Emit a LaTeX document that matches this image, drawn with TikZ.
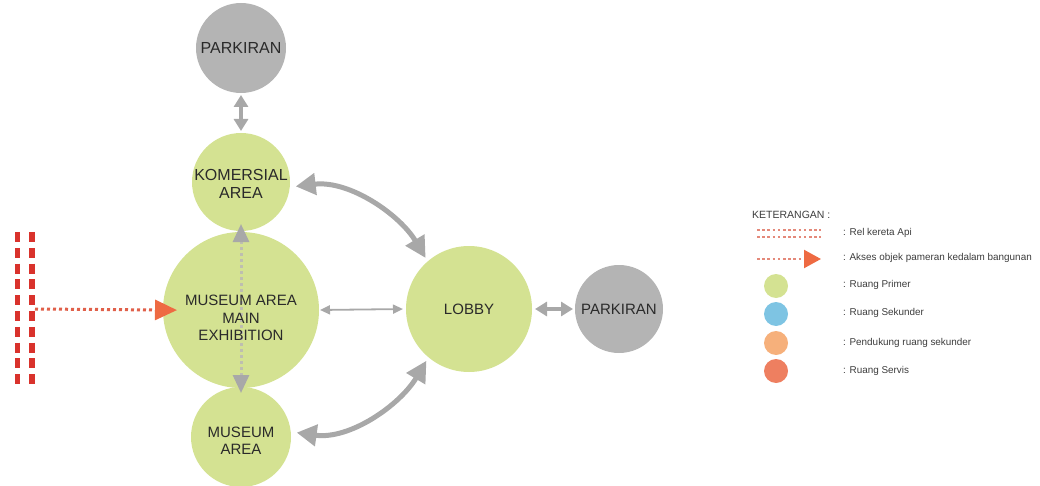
\documentclass[tikz,border=0pt]{standalone}
\usepackage{fontspec}
\setmainfont{Liberation Sans}
\usetikzlibrary{arrows.meta}
\definecolor{primer}{HTML}{D4E292}
\definecolor{parkir}{HTML}{B4B4B4}
\definecolor{arrowgray}{HTML}{A8A8A8}
\definecolor{dotgray}{HTML}{BEBEB0}
\definecolor{rail}{HTML}{D9322C}
\definecolor{akses}{HTML}{E0604A}
\definecolor{aksesHead}{HTML}{EE6A42}
\definecolor{legdots}{HTML}{E4897A}
\definecolor{sekunder}{HTML}{7EC4E3}
\definecolor{pendukung}{HTML}{F6B07B}
\definecolor{servis}{HTML}{EE7F60}
\definecolor{ink}{HTML}{2A2A2A}
\definecolor{legendink}{HTML}{3C3C3C}
\tikzset{
  room/.style={circle, inner sep=0pt, outer sep=0pt, minimum size=#1},
  lbl/.style={align=center, text=ink, font=\fontsize{15}{17.5}\selectfont, inner sep=0pt},
  biglbl/.style={lbl, font=\fontsize{16}{18}\selectfont},
  legtext/.style={anchor=west, text=legendink, font=\fontsize{9.9}{11}\selectfont, inner sep=0pt},
  legdot/.style={circle, inner sep=0pt, outer sep=0pt, minimum size=24pt},
  curvelink/.style={draw=arrowgray, line width=5pt,
    {Triangle[length=20pt,width=21pt]}-{Triangle[length=21pt,width=21pt]}},
  shortlink/.style={draw=arrowgray, line width=4pt,
    {Triangle[length=12pt,width=14pt]}-{Triangle[length=12pt,width=14pt]}},
  thinlink/.style={draw=arrowgray, line width=1.8pt,
    {Triangle[length=10pt,width=9pt]}-{Triangle[length=10pt,width=9pt]}},
  railline/.style={draw=rail, line width=5.5pt, dash pattern=on 10pt off 5.8pt},
  aksesline/.style={draw=akses, line width=3pt, dash pattern=on 3pt off 3pt},
  legline/.style={draw=legdots, line width=2.2pt, dash pattern=on 2.5pt off 2.7pt},
}
\begin{document}
\begin{tikzpicture}[x=1pt,y=-1pt]
\useasboundingbox (0,0) rectangle (1040,486);

% spaces
\node[room=90pt, fill=parkir] (parkTop) at (241,48) {};
\node[room=98pt, fill=primer] (kom) at (241,182) {};
\node[room=100pt, fill=primer] (mus) at (241,437) {};
\node[room=156pt, fill=primer] (main) at (241,310) {};
\node[room=126pt, fill=primer] (lobby) at (469,309) {};
\node[room=88pt, fill=parkir] (parkRight) at (619,309) {};

% link through the main exhibition
\coordinate (mainUp) at (241,224);
\coordinate (mainDown) at (241,393);
\draw[draw=dotgray, line width=3pt, dash pattern=on 3pt off 3pt,
  {Triangle[length=18pt,width=16pt,color=arrowgray]}-{Triangle[length=18pt,width=16pt,color=arrowgray]}]
  (mainUp) -- (mainDown);

% labels
\node[biglbl] (parkTopT) at (241,48) {PARKIRAN};
\node[biglbl] (komT) at (241,184) {KOMERSIAL\\AREA};
\node[lbl] (mainT) at (241,318) {MUSEUM AREA\\MAIN\\EXHIBITION};
\node[lbl] (musT) at (241,441) {MUSEUM\\AREA};
\node[lbl] (lobbyT) at (469,309) {LOBBY};
\node[lbl] (parkRightT) at (619,309) {PARKIRAN};

% circulation
\draw[shortlink, shorten <=2pt, shorten >=2pt] (parkTop.south) -- (kom.north);
\draw[shortlink, shorten <=3pt, shorten >=2pt] (lobby.east) -- (parkRight.west);
\draw[thinlink, shorten <=1pt, shorten >=3pt] (main.east) -- (lobby.west);
\draw[curvelink, shorten <=6pt, shorten >=4pt]
  (kom.-6) .. controls (350,180) and (400,215) .. (lobby.131);
\draw[curvelink, shorten <=6pt, shorten >=4pt]
  (mus.6) .. controls (350,440) and (400,405) .. (lobby.230);

% railway and object access
\coordinate (railA1) at (17.5,232);
\coordinate (railA2) at (17.5,384);
\coordinate (railB1) at (32,232);
\coordinate (railB2) at (32,384);
\draw[railline] (railA1) -- (railA2);
\draw[railline] (railB1) -- (railB2);
\coordinate (aksesStart) at (35,309);
\draw[aksesline, shorten >=-14pt, -{Triangle[length=22pt,width=20pt,color=aksesHead]}]
  (aksesStart) -- (main.west);

% legend
\node[legtext, font=\fontsize{10.5}{12}\selectfont] (legTitle) at (752,215) {KETERANGAN :};
\coordinate (legRailA1) at (757,230);
\coordinate (legRailA2) at (821,230);
\coordinate (legRailB1) at (757,237);
\coordinate (legRailB2) at (821,237);
\draw[legline] (legRailA1) -- (legRailA2);
\draw[legline] (legRailB1) -- (legRailB2);
\node[legtext] (legRail) at (843,233) {: Rel kereta Api};
\coordinate (legAkses1) at (757,259);
\coordinate (legAkses2) at (821,259);
\draw[legline, -{Triangle[length=17pt,width=18pt,color=aksesHead]}] (legAkses1) -- (legAkses2);
\node[legtext] (legAkses) at (843,258) {: Akses objek pameran kedalam bangunan};
\node[legdot, fill=primer] (dotPrimer) at (776,286) {};
\node[legdot, fill=sekunder] (dotSekunder) at (776,314) {};
\node[legdot, fill=pendukung] (dotPendukung) at (776,343) {};
\node[legdot, fill=servis] (dotServis) at (776,371) {};
\node[legtext] (txtPrimer) at (843,285) {: Ruang Primer};
\node[legtext] (txtSekunder) at (843,313) {: Ruang Sekunder};
\node[legtext] (txtPendukung) at (843,343) {: Pendukung ruang sekunder};
\node[legtext] (txtServis) at (843,371) {: Ruang Servis};
\end{tikzpicture}
\end{document}
